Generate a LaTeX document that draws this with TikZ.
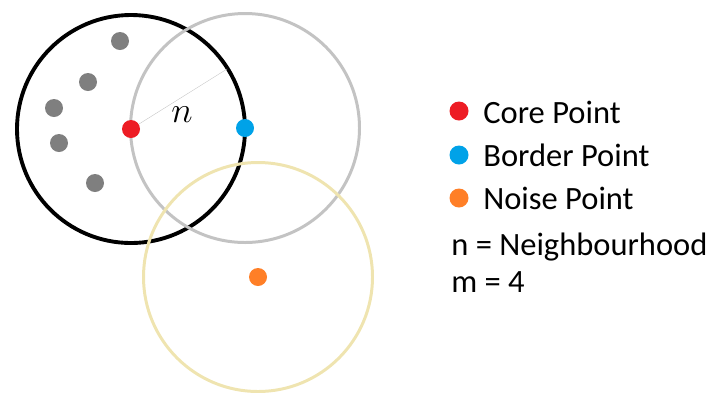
\documentclass[tikz,border=0pt]{standalone}
\usepackage{fontspec}
\setmainfont{Carlito}
\usepackage{xcolor}
\usepackage{tikz}
\usetikzlibrary{positioning, backgrounds}
\definecolor{corered}{RGB}{237, 28, 36}
\definecolor{borderblue}{RGB}{0, 162, 232}
\definecolor{noiseorange}{RGB}{255, 127, 39}
\definecolor{pointgray}{RGB}{127, 127, 127}
\definecolor{ringgray}{RGB}{195, 195, 195}
\definecolor{ringyellow}{RGB}{239, 228, 176}

\begin{document}
\begin{tikzpicture}[
    dot/.style={circle, inner sep=0pt, minimum size=0.36cm},
    legtext/.style={anchor=west, font=\fontsize{18.5}{22}\selectfont, inner sep=0pt},
    ring/.style={line width=2.2pt}
]
    \useasboundingbox (0,0) rectangle (14.3,-7.84);

    % Points
    \node[dot, fill=corered] (core) at (2.62, -2.58) {};
    \node[dot, fill=borderblue] (border) at (4.90, -2.56) {};
    \node[dot, fill=noiseorange] (noise) at (5.16, -5.54) {};
    \node[dot, fill=pointgray] (p1) at (2.40, -0.82) {};
    \node[dot, fill=pointgray] (p2) at (1.76, -1.64) {};
    \node[dot, fill=pointgray] (p3) at (1.08, -2.16) {};
    \node[dot, fill=pointgray] (p4) at (1.18, -2.86) {};
    \node[dot, fill=pointgray] (p5) at (1.90, -3.66) {};

    % Neighbourhoods
    \begin{scope}[on background layer]
        \draw[ring, black] (core.center) circle (2.28);
        \draw[ring, ringgray, line width=1.7pt] (border.center) circle (2.29);
        \draw[ring, ringyellow, line width=1.7pt] (noise.center) circle (2.29);
        \draw[ringgray, very thin] (core.center) -- ++(32:2.27) coordinate (rim);
    \end{scope}
    \node[font=\fontsize{20}{24}\selectfont] (nlabel) at (3.64, -2.30) {$n$};

    % Legend
    \node[dot, fill=corered, minimum size=0.38cm] (lcore) at (9.18, -2.22) {};
    \node[dot, fill=borderblue, minimum size=0.38cm] (lborder) at (9.18, -3.10) {};
    \node[dot, fill=noiseorange, minimum size=0.38cm] (lnoise) at (9.18, -3.96) {};
    \node[legtext] (tcore) at (9.66, -2.24) {Core Point};
    \node[legtext] (tborder) at (9.66, -3.10) {Border Point};
    \node[legtext] (tnoise) at (9.66, -3.96) {Noise Point};
    \node[legtext] (tn) at (9.02, -4.94) {n = Neighbourhood};
    \node[legtext] (tm) at (9.02, -5.64) {m = 4};
\end{tikzpicture}
\end{document}
